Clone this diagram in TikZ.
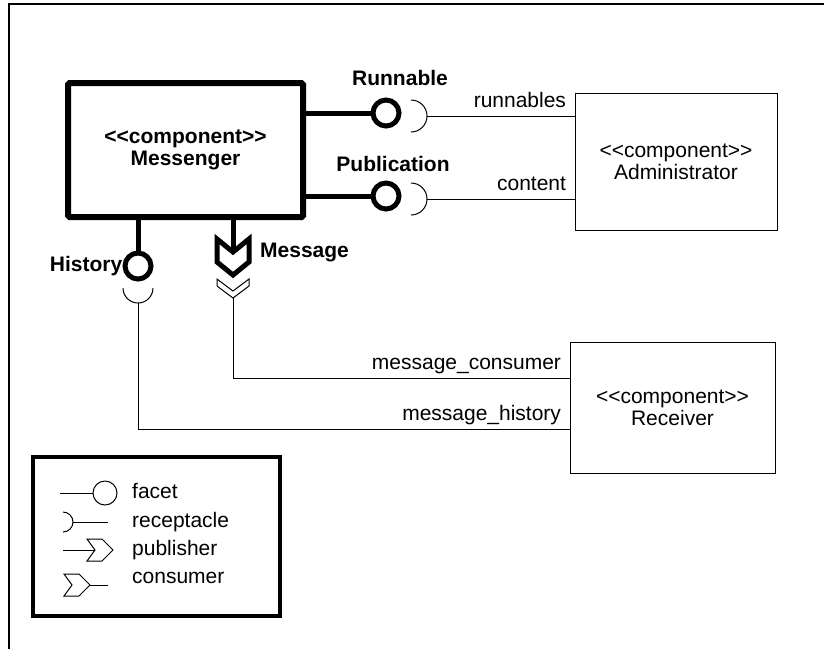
\documentclass[tikz,border=0pt]{standalone}
\usepackage{fontspec}
\setmainfont{Liberation Sans}[Ligatures=TeXOff]
\usetikzlibrary{positioning}

\tikzset{
	frameline/.style={line width=2.5pt},
	mainbox/.style={draw, line width=6pt, rounded corners=1.5pt, minimum width=235pt, minimum height=134pt, align=center, font=\fontsize{21}{22}\selectfont\bfseries},
	compbox/.style={draw, line width=1pt, align=center, font=\fontsize{21}{22}\selectfont},
	facet/.style={circle, draw, fill=white, line width=5pt, minimum size=26pt, inner sep=0pt},
	legfacet/.style={circle, draw, line width=1pt, minimum size=24pt, inner sep=0pt},
	port/.style={line width=5pt},
	wire/.style={line width=1pt},
	portlbl/.style={inner sep=0pt, font=\fontsize{21}{22}\selectfont\bfseries},
	wirelbl/.style={inner sep=0pt, anchor=base east, xshift=-8pt, yshift=9pt, font=\fontsize{21}{22}\selectfont},
	legbox/.style={draw, line width=3.5pt, minimum width=247pt, minimum height=159pt},
	legtext/.style={inner sep=0pt, anchor=base west, font=\fontsize{21}{22}\selectfont},
}

\begin{document}
\begin{tikzpicture}[x=1pt, y=-1pt]
	\useasboundingbox (0,0) rectangle (824,649);
	\draw[frameline] (9,649) -- (9,4) -- (824,4);
	
	\node[mainbox]                          (messenger) at (185.5,150) {<<component>>\\Messenger};
	\node[compbox, minimum width=202pt, minimum height=137pt] (admin) at (676,161.5) {<<component>>\\Administrator};
	\node[compbox, minimum width=205pt, minimum height=131pt] (receiver) at (672.5,407.5) {<<component>>\\Receiver};
	
	% facets of Messenger
	\node[facet]                            (runF) at (386,113) {};
	\node[facet]                            (pubF) at (386,196) {};
	\node[facet]                            (histF) at (138,266) {};
	\coordinate                             (msgP) at (233,252);
	
	\draw[port] (messenger.east |- runF) -- (runF.west);
	\draw[port] (messenger.east |- pubF) -- (pubF.west);
	\draw[port] (messenger.south -| histF) -- (histF.north);
	\draw[port] (messenger.south -| msgP) -- (msgP);
	\draw[port, fill=white] (msgP) -- ++(-16,-13) -- ++(0,23) -- ++(16,13) -- ++(16,-13) -- ++(0,-23) -- cycle;
	
	\node[portlbl, above=11.5pt of runF, xshift=14pt] (runLbl) {Runnable};
	\node[portlbl, above=8.5pt of pubF, xshift=7pt]   (pubLbl) {Publication};
	\node[portlbl, left=0pt of histF]                  (histLbl) {History};
	\node[portlbl, right=27pt of msgP]                 (msgLbl) {Message};
	
	% receptacles and consumer
	\coordinate (runR) at (427,116);
	\coordinate (pubR) at (427,199);
	\coordinate (histR) at (138,303);
	\coordinate (msgR) at (233,298);
	\coordinate (recvCons) at ([yshift=29.5pt]receiver.west);
	\coordinate (recvHist) at ([yshift=-21.5pt]receiver.west);
	
	\draw[wire] (runR) ++(-16,-16) arc[start angle=-90, end angle=90, radius=16];
	\draw[wire] (pubR) ++(-16,-16) arc[start angle=-90, end angle=90, radius=16];
	\draw[wire] (histR) ++(-15,-15) arc[start angle=180, end angle=0, radius=15];
	\draw[wire] (msgR) -- ++(-16,-12) -- ++(0,-7) -- ++(16,12) -- ++(16,-12) -- ++(0,7) -- cycle;
	
	\draw[wire] (runR) -- node[wirelbl, pos=1] {runnables} (admin.west |- runR);
	\draw[wire] (pubR) -- node[wirelbl, pos=1] {content} (admin.west |- pubR);
	\draw[wire] (msgR) |- node[wirelbl, pos=1] {message\_consumer} (recvCons);
	\draw[wire] (histR) |- node[wirelbl, pos=1] {message\_history} (recvHist);
	
	% legend
	\node[legbox] (legend) at (156.5,536.5) {};
	\node[legfacet] (lgFacet) at (105,493) {};
	\coordinate (lgRec) at (73,522);
	\coordinate (lgPub) at (95,550);
	\coordinate (lgCon) at (90,585);
	
	\draw[wire] (lgFacet.west) -- ++(-33,0);
	\draw[wire] (lgRec) ++(-10,-10) arc[start angle=-90, end angle=90, radius=10];
	\draw[wire] (lgRec) -- ++(35,0);
	\draw[wire] (lgPub) -- ++(-32,0);
	\draw[wire] (lgPub) -- ++(-8,-11) -- ++(15,0) -- ++(11,11) -- ++(-11,11) -- ++(-15,0) -- cycle;
	\draw[wire] (lgCon) -- ++(-11,-11) -- ++(-15,0) -- ++(8,11) -- ++(-8,11) -- ++(15,0) -- cycle;
	\draw[wire] (lgCon) -- ++(18,0);
	
	\node[legtext] at (132,498) {facet};
	\node[legtext] at (132,527) {receptacle};
	\node[legtext] at (132,555) {publisher};
	\node[legtext] at (132,583) {consumer};
\end{tikzpicture}
\end{document}
